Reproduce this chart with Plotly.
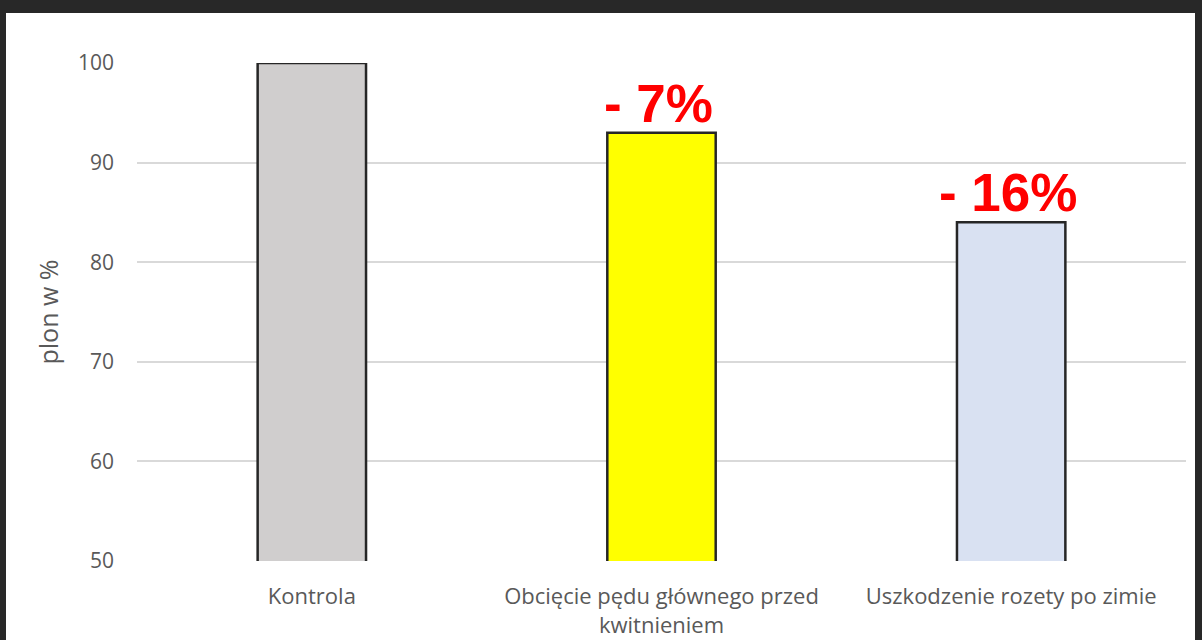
import plotly.graph_objects as go

categories = ["Kontrola", "Obcięcie pędu głównego przed<br>kwitnieniem", "Uszkodzenie rozety po zimie"]
values = [100, 93, 84]
labels = ["", "- 7%", "- 16%"]
bar_colors = ["#D0CECE", "#FFFF00", "#D9E1F2"]
y_ticks = [50, 60, 70, 80, 90, 100]

L, R, T, B = 137, 16, 63, 79
W, H = 1202, 640
pw, ph = W - L - R, H - T - B

def px_x(p):
    return (p - L) / pw

def px_y(p):
    return (H - B - p) / ph

fig = go.Figure()
fig.add_trace(go.Bar(
    x=categories, y=values,
    marker=dict(color=bar_colors, line=dict(color="#262626", width=2.5)),
    width=0.31,
    base=0,
))

for c, v, t in zip(categories, values, labels):
    if t:
        fig.add_annotation(x=c, y=v, text="<b>" + t + "</b>", showarrow=False,
                           yanchor="bottom", yshift=-2, xshift=-3,
                           font=dict(family="Arial, Liberation Sans", size=53, color="#FF0000"))

fig.add_shape(type="rect", xref="paper", yref="paper",
              x0=px_x(6), x1=px_x(1195), y0=px_y(660), y1=px_y(13),
              fillcolor="white", line=dict(width=0), layer="below")

fig.update_layout(
    width=W, height=H,
    margin=dict(l=L, r=R, t=T, b=B, autoexpand=False),
    paper_bgcolor="#282828",
    plot_bgcolor="rgba(0,0,0,0)",
    showlegend=False,
    font=dict(family="Open Sans, sans-serif", color="#595959"),
    xaxis=dict(
        showgrid=False, showline=False, zeroline=False,
        tickfont=dict(size=22, color="#595959"),
        ticklabelstandoff=20,
        automargin=False,
    ),
    yaxis=dict(
        range=[50, 100],
        tickvals=y_ticks,
        showgrid=True, gridcolor="#D9D9D9", gridwidth=2,
        zeroline=False, showline=False,
        tickfont=dict(size=21, color="#595959"),
        ticklabelstandoff=22,
        automargin=False,
        title=dict(text="plon w %", font=dict(size=25, color="#595959"), standoff=12),
    ),
)

fig.write_html("out.html",
               config={"displayModeBar": False},
               post_script="document.body.style.margin='0';document.body.style.overflow='hidden';")
